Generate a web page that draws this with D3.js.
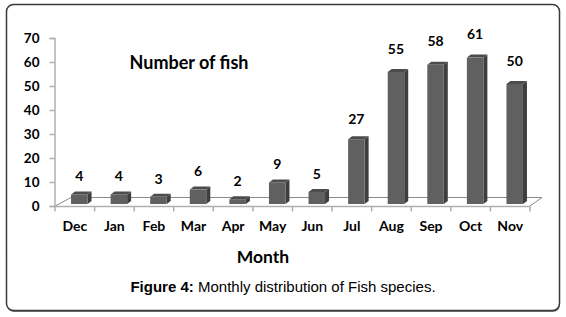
<!DOCTYPE html>
<html><head><meta charset="utf-8">
<script src="https://cdn.jsdelivr.net/npm/d3@7"></script>
<style>body{margin:0;background:#fff}svg{display:block}</style>
</head><body>
<svg id="c" width="566" height="317"></svg>
<script>
const months = ["Dec","Jan","Feb","Mar","Apr","May","Jun","Jul","Aug","Sep","Oct","Nov"];
const fishCounts = [4,4,3,6,2,9,5,27,55,58,61,50];
const yTicks = [0,10,20,30,40,50,60,70];
const chartTitle = "Number of fish";
const xTitle = "Month";
const captionBold = "Figure 4:";
const captionText = " Monthly distribution of Fish species.";

const svg = d3.select("#c");
const font = "Lato, 'Open Sans', sans-serif";

// frame
svg.append("rect").attr("x",7).attr("y",6).attr("width",553).attr("height",306)
  .attr("rx",7).attr("fill","#7a7a7a");
svg.append("rect").attr("x",6.5).attr("y",4.5).attr("width",553).attr("height",306)
  .attr("rx",7).attr("fill","#fff").attr("stroke","#3a3a3a").attr("stroke-width",1.5);

const x = d3.scaleBand().domain(months).range([55,530]).padding(0);
const y = d3.scaleLinear().domain([0,70]).range([206,38]);
const depth = {dx:16, dy:-8.5};
const barShift = {dx:4.5, dy:-2};
const barW = 16.5, bdx = 4, bdy = -3;

// floor
const g = svg.append("g");
g.append("path")
  .attr("d", `M${x.range()[0]},${y(0)} L${x.range()[0]+depth.dx},${y(0)+depth.dy} L${x.range()[1]+12},${y(0)+depth.dy} L${x.range()[1]},${y(0)}`)
  .attr("fill","none").attr("stroke","#8a8a8a").attr("stroke-width",1);

// y axis
const yAxis = d3.axisLeft(y).tickValues(yTicks).tickSize(5).tickPadding(10);
const ya = svg.append("g").attr("transform","translate(54.5,0)").call(yAxis);
ya.select(".domain").attr("stroke","#b0b0b0").attr("stroke-width",1.5);
ya.selectAll(".tick line").attr("stroke","#b0b0b0").attr("stroke-width",1.5);
ya.selectAll("text").attr("font-family",font).attr("font-weight","bold")
  .attr("font-size",13.5).attr("fill","#000");

// x axis line + ticks at band boundaries
const bounds = months.map(m => x(m)).concat([x.range()[1]]);
svg.append("line").attr("x1",x.range()[0]).attr("x2",x.range()[1])
  .attr("y1",y(0)+0.5).attr("y2",y(0)+0.5).attr("stroke","#b0b0b0").attr("stroke-width",1.5);
svg.selectAll(".xt").data(bounds).join("line").attr("class","xt")
  .attr("x1",d=>d).attr("x2",d=>d).attr("y1",y(0)).attr("y2",y(0)+5.5)
  .attr("stroke","#b0b0b0").attr("stroke-width",1.5);
svg.selectAll(".xl").data(months).join("text").attr("class","xl")
  .attr("x",d=>x(d)+x.bandwidth()/2).attr("y",231)
  .attr("text-anchor","middle").attr("font-family",font).attr("font-weight","bold")
  .attr("font-size",14).text(d=>d);

// bars
const data = months.map((m,i)=>({m, v:fishCounts[i]}));
const bars = svg.append("g").selectAll("g").data(data).join("g");
const bx = d => x(d.m) + x.bandwidth()/2 + barShift.dx - barW/2;
const by0 = y(0) + barShift.dy;
const byt = d => y(d.v) + barShift.dy;
// side
bars.append("path").attr("d", d => {
  const x1 = bx(d)+barW;
  return `M${x1},${by0} L${x1+bdx},${by0+bdy} L${x1+bdx},${byt(d)+bdy} L${x1},${byt(d)} Z`;
}).attr("fill","#3e3e3e");
// top
bars.append("path").attr("d", d => {
  const x0 = bx(d), x1 = bx(d)+barW, t = byt(d);
  return `M${x0},${t} L${x0+bdx},${t+bdy} L${x1+bdx},${t+bdy} L${x1},${t} Z`;
}).attr("fill","#4c4c4c");
// front
bars.append("rect").attr("x",bx).attr("y",byt).attr("width",barW)
  .attr("height",d=>by0-byt(d)).attr("fill","#606060");
// value labels
bars.append("text").attr("x",d=>bx(d)+barW/2).attr("y",d=>byt(d)-13-0.1*d.v)
  .attr("text-anchor","middle").attr("font-family",font).attr("font-weight","bold")
  .attr("font-size",14).text(d=>d.v);

// titles
svg.append("text").attr("x",189).attr("y",69).attr("text-anchor","middle")
  .attr("font-family",font).attr("font-weight","bold").attr("font-size",18).text(chartTitle);
svg.append("text").attr("x",263).attr("y",263).attr("text-anchor","middle")
  .attr("font-family",font).attr("font-weight","bold").attr("font-size",17.5).text(xTitle);

// caption
const cap = svg.append("text").attr("x",283).attr("y",292).attr("text-anchor","middle")
  .attr("font-family","'Liberation Sans', Arial, sans-serif").attr("font-size",15);
cap.append("tspan").attr("font-weight","bold").text(captionBold);
cap.append("tspan").text(captionText);
</script>
</body></html>
